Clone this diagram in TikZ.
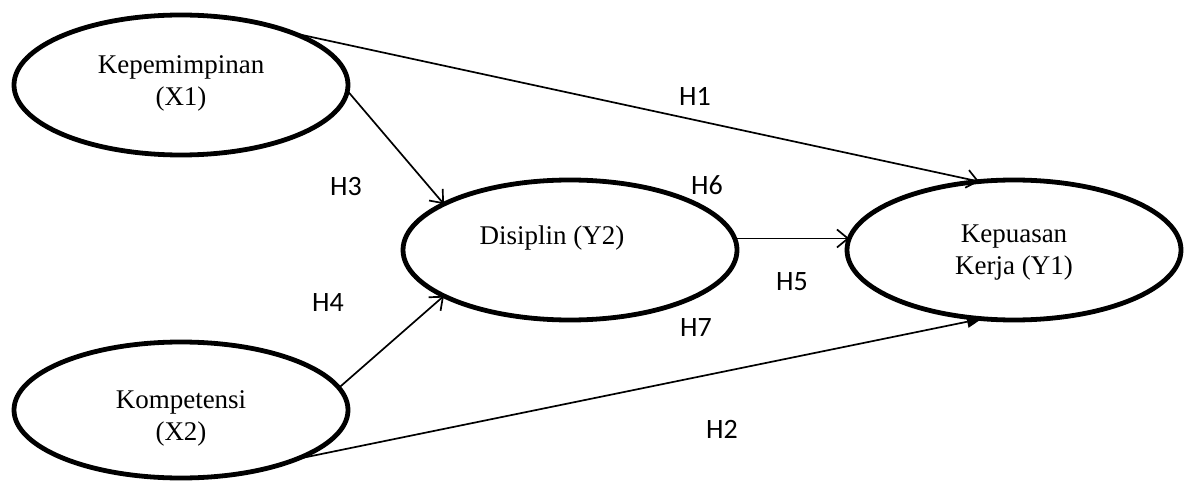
\documentclass[tikz,border=0pt]{standalone}
\usepackage{fontspec}
\setmainfont{Liberation Serif}
\newfontfamily\labelfont{Carlito}
\usetikzlibrary{shapes.geometric,arrows.meta}
\begin{document}
\begin{tikzpicture}[x=1pt,y=-1pt,
  construct/.style={ellipse,draw,line width=4.8pt,minimum width=334pt,minimum height=140pt,
    inner sep=0pt,outer sep=0pt},
  ctext/.style={align=center,inner sep=0pt,font=\fontsize{27}{32}\selectfont},
  path/.style={line width=1.7pt,-{Straight Barb[length=11pt,width=18pt,line width=1.7pt]}},
  hyp/.style={font=\labelfont\fontsize{28}{30}\selectfont,inner sep=0pt}]
  \useasboundingbox (0,0) rectangle (1190,486);

  % latent constructs
  \node[construct] (x1) at (181,85) {};
  \node[ctext] (x1t) at (181,83) {Kepemimpinan\\(X1)};
  \node[construct,minimum height=136pt] (x2) at (181,410) {};
  \node[ctext] (x2t) at (181,418) {Kompetensi\\(X2)};
  \node[construct] (y2) at (570,250) {};
  \node[ctext] (y2t) at (552,238) {Disiplin (Y2)};
  \node[construct] (y1) at (1014,250) {};
  \node[ctext] (y1t) at (1014,253) {Kepuasan\\Kerja (Y1)};

  % structural paths
  \draw[path] (x1.25) -- (y1.117);
  \draw[path] (x1.-2) -- (y2.160);
  \draw[path] (x2.8) -- (y2.200);
  \draw[path] (y2.4) -- (y1.176);
  \draw[line width=1.7pt,-{Triangle[length=15pt,width=12pt]}] (x2.-23) -- (y1.245);

  % hypothesis labels
  \node[hyp] (h1) at (695,96) {H1};
  \node[hyp] (h3) at (346,187) {H3};
  \node[hyp] (h6) at (707,185) {H6};
  \node[hyp] (h4) at (328,303) {H4};
  \node[hyp] (h5) at (792,282) {H5};
  \node[hyp] (h7) at (696,328) {H7};
  \node[hyp] (h2) at (722,429) {H2};
\end{tikzpicture}
\end{document}
